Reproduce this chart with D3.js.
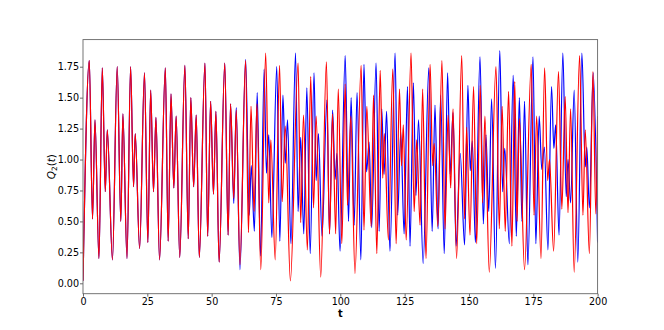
<!DOCTYPE html>
<html>
<head>
<meta charset="utf-8">
<script src="https://cdn.jsdelivr.net/npm/d3@7"></script>
<style>
body { margin: 0; background: #fff; }
text { font-family: "DejaVu Sans", sans-serif; }
</style>
</head>
<body>
<div id="chart"></div>
<script>
// [t, Q2] turning points; both runs coincide up to t ~ 57
var common = [
	[0, 0.02], [2.45, 1.80], [3.7, 0.52], [4.65, 1.32], [6.2, 0.20], [7.5, 1.74],
	[8.66, 0.74], [9.44, 1.24], [11.45, 0.19], [13.3, 1.75], [14.7, 0.50], [15.5, 1.37],
	[17.1, 0.20], [18.5, 1.75], [19.65, 0.78], [20.3, 1.21], [22.0, 0.28], [23.9, 1.70],
	[25.2, 0.33], [26.3, 1.56], [27.4, 0.74], [28.35, 1.34], [29.75, 0.19], [32.0, 1.74],
	[33.1, 0.34], [34.2, 1.53], [35.3, 0.77], [36.2, 1.35], [37.6, 0.21], [39.6, 1.76],
	[40.9, 0.36], [41.9, 1.50], [43.0, 0.78], [44.0, 1.36], [45.2, 0.21], [47.4, 1.78],
	[48.45, 0.38], [49.6, 1.47], [50.7, 0.72], [51.65, 1.39], [52.9, 0.17], [55.1, 1.78],
	[56.4, 0.39], [57.35, 1.45]
];

var blueRest = [
	[58.6, 0.645], [59.55, 1.42], [61.0, 0.11], [63.2, 1.81], [64.6, 0.55], [65.4, 0.95],
	[66.6, 0.42], [67.7, 1.54], [69.0, 0.22], [70.4, 1.73], [71.3, 0.89], [72.2, 1.20],
	[73.4, 0.37], [75.3, 1.75], [76.5, 0.34], [77.7, 1.52], [78.6, 0.97], [79.5, 1.32],
	[80.8, 0.32], [82.6, 1.86], [83.6, 0.58], [84.6, 1.18], [85.8, 0.40], [87.0, 1.58],
	[88.3, 0.24], [89.8, 1.70], [90.6, 0.83], [91.5, 1.21], [92.9, 0.38], [94.8, 1.48],
	[95.8, 0.40], [97.0, 1.40], [98.0, 0.84], [98.7, 1.05], [99.9, 0.26], [101.9, 1.84],
	[103.2, 0.50], [104.2, 1.50], [105.4, 0.47], [106.5, 1.54], [108.0, 0.19], [109.2, 1.77],
	[110.2, 0.90], [111.2, 1.14], [112.2, 0.45], [113.9, 1.78], [115.1, 0.42], [116.1, 1.41],
	[117.0, 0.88], [118.0, 1.39], [119.3, 0.26], [121.3, 1.86], [122.3, 0.55], [123.5, 1.22],
	[124.8, 0.40], [126.1, 1.59], [127.1, 0.30], [128.4, 1.62], [129.4, 0.71], [130.4, 1.32],
	[132.2, 0.16], [134.4, 1.74], [135.7, 0.42], [136.8, 1.44], [138.0, 0.44], [139.0, 1.52],
	[140.4, 0.24], [141.7, 1.70], [142.7, 0.88], [143.8, 1.38], [145.0, 0.30], [146.6, 1.05],
	[148.3, 0.31], [149.6, 1.60], [150.5, 0.91], [151.3, 1.15], [152.5, 0.33], [154.3, 1.83],
	[155.6, 0.48], [156.6, 1.20], [157.7, 0.58], [158.8, 1.49], [160.3, 0.12], [162.0, 1.88],
	[163.1, 0.74], [163.9, 1.09], [165.7, 0.32], [167.2, 1.68], [168.4, 0.38], [169.6, 1.50],
	[170.6, 0.50], [171.6, 1.47], [172.9, 0.15], [174.9, 1.83], [176.0, 0.32], [177.3, 1.35],
	[178.3, 0.92], [179.3, 1.10], [180.7, 0.27], [182.1, 1.59], [183.0, 1.09], [183.7, 1.28],
	[185.0, 0.39], [186.5, 1.86], [187.8, 0.70], [188.5, 1.00], [189.5, 0.65], [190.9, 1.56],
	[192.3, 0.17], [193.9, 1.86], [195.2, 0.94], [195.8, 1.10], [196.8, 0.61], [198.3, 1.70],
	[200, 0.33]
];

var redRest = [
	[58.6, 0.685], [59.55, 1.40], [61.0, 0.15], [63.2, 1.80], [64.3, 0.41], [65.3, 1.43],
	[66.5, 0.58], [67.6, 1.45], [69.1, 0.11], [71.0, 1.86], [72.2, 0.65], [73.0, 1.16],
	[74.7, 0.19], [76.4, 1.76], [77.4, 0.66], [78.6, 1.27], [80.6, 0.02], [83.6, 1.78],
	[84.6, 0.49], [85.7, 1.36], [87.2, 0.27], [88.5, 1.67], [89.6, 0.61], [90.6, 1.35],
	[92.4, 0.05], [94.6, 1.79], [95.8, 0.40], [97.0, 1.37], [98.2, 0.40], [99.2, 1.57],
	[100.6, 0.32], [101.9, 1.61], [102.8, 0.63], [104.1, 1.35], [105.7, 0.08], [108.1, 1.76],
	[109.2, 0.43], [110.3, 1.43], [112.0, 0.46], [112.9, 1.52], [114.2, 0.24], [115.5, 1.72],
	[116.5, 0.85], [117.1, 1.21], [118.7, 0.35], [120.4, 1.73], [121.7, 0.32], [123.0, 1.57],
	[123.8, 0.95], [124.5, 1.28], [125.6, 0.35], [127.5, 1.86], [128.7, 0.58], [129.7, 1.16],
	[131.0, 0.47], [132.0, 1.57], [133.3, 0.20], [134.9, 1.77], [135.9, 0.95], [136.5, 1.13],
	[137.9, 0.46], [139.5, 1.80], [140.7, 0.44], [141.9, 1.36], [142.9, 0.77], [143.8, 1.41],
	[145.2, 0.20], [147.2, 1.84], [148.3, 0.52], [149.1, 1.26], [150.4, 0.39], [151.8, 1.59],
	[153.0, 0.32], [154.4, 1.60], [155.3, 0.65], [156.2, 1.35], [157.9, 0.09], [160.5, 1.75],
	[161.8, 0.44], [162.9, 1.43], [164.1, 0.42], [165.4, 1.55], [166.7, 0.30], [167.8, 1.63],
	[168.7, 0.50], [169.6, 1.33], [171.6, 0.11], [174.2, 1.77], [175.3, 0.55], [176.3, 1.35],
	[178.0, 0.20], [179.4, 1.74], [180.6, 0.83], [181.3, 1.00], [182.9, 0.26], [184.8, 1.71],
	[186.1, 0.60], [187.4, 1.51], [188.5, 0.57], [189.5, 1.41], [190.9, 0.09], [193.0, 1.84],
	[194.3, 0.55], [195.2, 1.24], [196.8, 0.24], [198.2, 1.71], [199.3, 0.56], [200, 1.35]
];

var xTicks = [0, 25, 50, 75, 100, 125, 150, 175, 200];
var yTicks = [0, 0.25, 0.5, 0.75, 1.0, 1.25, 1.5, 1.75];

(function() {
	var width = 664,
		height = 330;

	var x0 = 83, x1 = 597.6, y0 = 39.6, y1 = 293.7;

	var svg = d3.select("#chart")
		.append("svg")
		.attr("width", width)
		.attr("height", height);

	var x = d3.scaleLinear().domain([0, 200]).range([x0, x1]);
	var y = d3.scaleLinear().domain([-0.084, 1.969]).range([y1, y0]);

	var line = d3.line()
		.x(function(d) { return x(d[0]); })
		.y(function(d) { return y(d[1]); })
		.curve(d3.curveMonotoneX);

	svg.append("defs").append("clipPath").attr("id", "clip")
		.append("rect")
		.attr("x", x0).attr("y", y0)
		.attr("width", x1 - x0).attr("height", y1 - y0);

	var plot = svg.append("g").attr("clip-path", "url(#clip)");

	plot.append("path")
		.datum(common.concat(blueRest))
		.attr("d", line)
		.attr("fill", "none")
		.attr("stroke", "#0000ff")
		.attr("stroke-width", 1.2);

	plot.append("path")
		.datum(common.concat(redRest))
		.attr("d", line)
		.attr("fill", "none")
		.attr("stroke", "#ff0000")
		.attr("stroke-width", 1.2);

	// axes
	var xAxis = svg.append("g")
		.attr("transform", "translate(0," + y1 + ")")
		.call(d3.axisBottom(x).tickValues(xTicks).tickSize(3).tickPadding(1.5)
			.tickFormat(d3.format("d")));

	var yAxis = svg.append("g")
		.attr("transform", "translate(" + x0 + ",0)")
		.call(d3.axisLeft(y).tickValues(yTicks).tickSize(3).tickPadding(1)
			.tickFormat(d3.format(".2f")));

	[xAxis, yAxis].forEach(function(g) {
		g.select(".domain").remove();
		g.selectAll(".tick line").attr("stroke", "#444").attr("stroke-width", 0.8);
		g.selectAll(".tick text")
			.attr("fill", "#000")
			.style("font-size", "9.6px")
			.style("font-family", "DejaVu Sans");
	});

	svg.append("rect")
		.attr("x", x0).attr("y", y0)
		.attr("width", x1 - x0).attr("height", y1 - y0)
		.attr("fill", "none")
		.attr("stroke", "#666")
		.attr("stroke-width", 0.9);

	// labels
	svg.append("text")
		.attr("x", (x0 + x1) / 2)
		.attr("y", 316.5)
		.attr("text-anchor", "middle")
		.style("font-size", "9.8px")
		.style("font-weight", "bold")
		.text("t");

	var ylab = svg.append("text")
		.attr("transform", "translate(54.5," + ((y0 + y1) / 2) + ") rotate(-90)")
		.attr("text-anchor", "middle")
		.style("font-size", "10.4px");
	ylab.append("tspan").style("font-style", "italic").text("Q");
	ylab.append("tspan").attr("dy", 2.2).style("font-size", "7.3px").text("2");
	ylab.append("tspan").attr("dy", -2.2).text("(");
	ylab.append("tspan").style("font-style", "italic").text("t");
	ylab.append("tspan").text(")");
})();
</script>
</body>
</html>
